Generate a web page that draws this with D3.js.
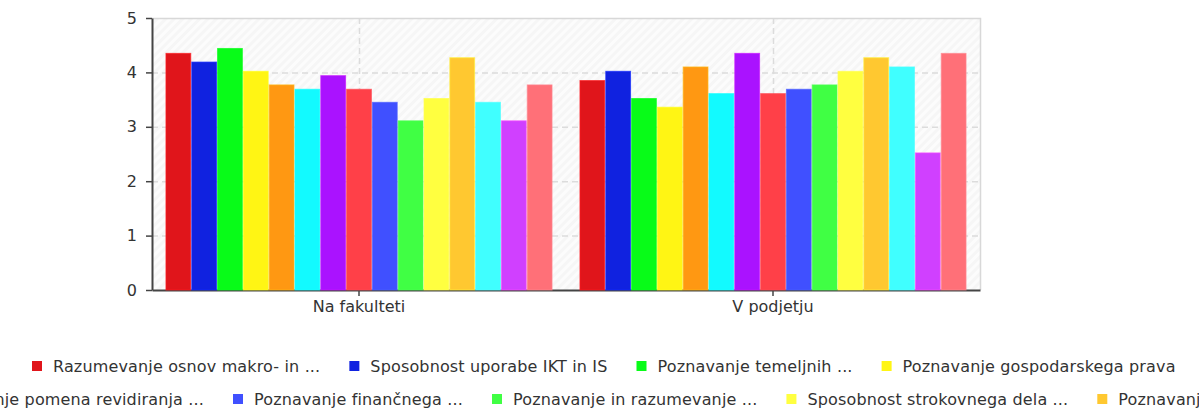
<!DOCTYPE html>
<html>
<head>
<meta charset="utf-8">
<script src="https://cdn.jsdelivr.net/npm/d3@7/dist/d3.min.js"></script>
<style>
    body { margin: 0; background: #fff; }
    svg text { font-family: "DejaVu Sans", sans-serif; fill: #333; }
</style>
</head>
<body>
<div id="chart"></div>
<script>
const categories = ['Na fakulteti', 'V podjetju'];

const seriesColors = [
    '#e0151b', '#1022e0', '#08fc18', '#fff514', '#ff9812',
    '#12faff', '#aa12ff', '#ff4048', '#4050ff', '#40ff44',
    '#ffff40', '#ffc830', '#40ffff', '#d040ff', '#ff7078'
];

// one value per series, first for "Na fakulteti", then "V podjetju"
const valuesFakulteta = [4.35, 4.19, 4.44, 4.02, 3.77, 3.69, 3.94, 3.69, 3.45, 3.11, 3.52, 4.27, 3.45, 3.11, 3.77];
const valuesPodjetje  = [3.85, 4.02, 3.52, 3.36, 4.10, 3.61, 4.35, 3.61, 3.69, 3.77, 4.02, 4.27, 4.10, 2.52, 4.35];

const yTicks = [0, 1, 2, 3, 4, 5];

// legend entries that are visible: series index + label
const legendRow1 = [
    { s: 0, label: 'Razumevanje osnov makro- in ...' },
    { s: 1, label: 'Sposobnost uporabe IKT in IS' },
    { s: 2, label: 'Poznavanje temeljnih ...' },
    { s: 3, label: 'Poznavanje gospodarskega prava' }
];
const legendRow2 = [
    { s: 7, label: 'Razumevanje pomena revidiranja ...' },
    { s: 8, label: 'Poznavanje finančnega ...' },
    { s: 9, label: 'Poznavanje in razumevanje ...' },
    { s: 10, label: 'Sposobnost strokovnega dela ...' },
    { s: 11, label: 'Poznavanje ...' }
];

const width = 1199, height = 412;
const plot = { left: 152, right: 980, top: 18, bottom: 290 };
const fontSize = '16px';

const svg = d3.select('#chart')
    .append('svg')
    .attr('width', width)
    .attr('height', height);

const defs = svg.append('defs');
const pattern = defs.append('pattern')
    .attr('id', 'hatch')
    .attr('patternUnits', 'userSpaceOnUse')
    .attr('width', 6)
    .attr('height', 6)
    .attr('patternTransform', 'rotate(45)');
pattern.append('rect').attr('width', 6).attr('height', 6).attr('fill', '#f6f6f6');
pattern.append('rect').attr('width', 3).attr('height', 6).attr('fill', '#fcfcfc');

const data = categories.map((c, i) => ({
    category: c,
    values: (i === 0 ? valuesFakulteta : valuesPodjetje).map((v, s) => ({ s, v }))
}));

const x0 = d3.scaleBand()
    .domain(categories)
    .range([plot.left, plot.right])
    .paddingInner(0.065)
    .paddingOuter(0.0325);

const x1 = d3.scaleBand()
    .domain(d3.range(seriesColors.length))
    .range([0, x0.bandwidth()]);

const y = d3.scaleLinear()
    .domain([0, 5])
    .range([plot.bottom, plot.top]);

// plot background
svg.append('rect')
    .attr('x', plot.left)
    .attr('y', plot.top)
    .attr('width', plot.right - plot.left)
    .attr('height', plot.bottom - plot.top)
    .attr('fill', 'url(#hatch)');

// grid
svg.append('g')
    .selectAll('line')
    .data(yTicks.filter(t => t > 0 && t < 5))
    .enter().append('line')
    .attr('x1', plot.left)
    .attr('x2', plot.right)
    .attr('y1', d => y(d) + 0.5)
    .attr('y2', d => y(d) + 0.5)
    .attr('stroke', '#dcdcdc')
    .attr('stroke-width', 1.5)
    .attr('stroke-dasharray', '6,4');

svg.append('g')
    .selectAll('line')
    .data(categories)
    .enter().append('line')
    .attr('x1', d => Math.round(x0(d) + x0.bandwidth() / 2) + 0.5)
    .attr('x2', d => Math.round(x0(d) + x0.bandwidth() / 2) + 0.5)
    .attr('y1', plot.top)
    .attr('y2', plot.bottom)
    .attr('stroke', '#dcdcdc')
    .attr('stroke-width', 1.5)
    .attr('stroke-dasharray', '6,4');

// frame top / right
svg.append('path')
    .attr('d', `M${plot.left},${plot.top + 0.5}H${plot.right + 0.5}V${plot.bottom}`)
    .attr('fill', 'none')
    .attr('stroke', '#d8d8d8')
    .attr('stroke-width', 1.5);

// x axis
const xAxis = svg.append('g')
    .attr('transform', `translate(0, ${plot.bottom})`)
    .call(d3.axisBottom(x0).tickSize(6).tickPadding(5).tickSizeOuter(0));
xAxis.select('.domain').attr('stroke', '#444').attr('stroke-width', 2);
xAxis.selectAll('.tick line').attr('stroke', '#444').attr('stroke-width', 1.5);
xAxis.selectAll('.tick text')
    .style('font-size', fontSize)
    .style('font-family', '"DejaVu Sans", sans-serif')
    .attr('fill', '#333');

// bars
svg.append('g')
    .selectAll('g')
    .data(data)
    .enter().append('g')
    .attr('transform', d => `translate(${x0(d.category)}, 0)`)
    .selectAll('rect')
    .data(d => d.values)
    .enter().append('rect')
    .attr('x', d => x1(d.s) + 0.5)
    .attr('y', d => y(d.v))
    .attr('width', x1.bandwidth() - 1)
    .attr('height', d => y(0) - y(d.v))
    .attr('fill', d => seriesColors[d.s])
    .attr('stroke', d => d3.color(seriesColors[d.s]).brighter(0.5))
    .attr('stroke-opacity', 0.7)
    .attr('stroke-width', 1);

// y axis
const yAxis = svg.append('g')
    .attr('transform', `translate(${plot.left}, 0)`)
    .call(d3.axisLeft(y).tickValues(yTicks).tickFormat(d3.format('d')).tickSize(6).tickPadding(9).tickSizeOuter(0));
yAxis.select('.domain').attr('stroke', '#444').attr('stroke-width', 2);
yAxis.selectAll('.tick line').attr('stroke', '#444').attr('stroke-width', 1.5);
yAxis.selectAll('.tick text')
    .style('font-size', fontSize)
    .style('font-family', '"DejaVu Sans", sans-serif')
    .attr('fill', '#333');

// legend
const swatch = 10, textGap = 21, itemGap = 29;

function drawLegendRow(items, yPos, startX, anchorIndex) {
    const g = svg.append('g');
    const entries = items.map(it => {
        const r = g.append('rect')
            .attr('width', swatch)
            .attr('height', swatch)
            .attr('y', yPos - swatch / 2)
            .attr('fill', seriesColors[it.s]);
        const t = g.append('text')
            .attr('y', yPos)
            .attr('dy', '0.35em')
            .style('font-size', fontSize)
            .style('letter-spacing', '0.15px')
            .text(it.label);
        return { r, t, w: t.node().getComputedTextLength() };
    });
    // shift so that the entry at anchorIndex starts at startX
    let x = startX;
    for (let i = 0; i < anchorIndex; i++) x -= textGap + entries[i].w + itemGap;
    entries.forEach(e => {
        e.r.attr('x', x);
        e.t.attr('x', x + textGap);
        x += textGap + e.w + itemGap;
    });
}

drawLegendRow(legendRow1, 366, 32, 0);
// the second row is wider than the chart and runs off both edges
drawLegendRow(legendRow2, 399, 233, 1);
</script>
</body>
</html>
